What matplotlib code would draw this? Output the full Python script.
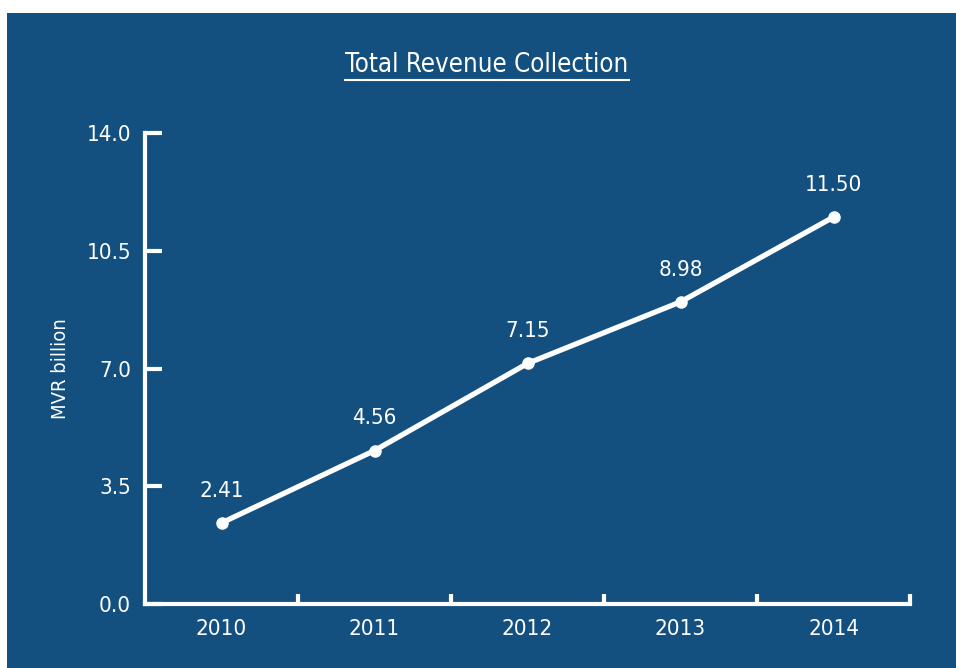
import matplotlib
matplotlib.use("Agg")
import matplotlib.pyplot as plt
from matplotlib.patches import Rectangle
from matplotlib.lines import Line2D

years = ["2010", "2011", "2012", "2013", "2014"]
revenue = [2.41, 4.56, 7.15, 8.98, 11.50]
value_labels = ["2.41", "4.56", "7.15", "8.98", "11.50"]
y_ticks = [0.0, 3.5, 7.0, 10.5, 14.0]

BG = "#13507f"
FG = "white"
plt.rcParams["font.family"] = ["Liberation Sans Narrow", "DejaVu Sans"]
plt.rcParams["font.stretch"] = "condensed"

W, H = 956, 668
fig = plt.figure(figsize=(W / 100, H / 100), dpi=100, facecolor="white")
fig.patches.append(Rectangle((7 / W, 0), 1 - 7 / W, (H - 13) / H,
                             transform=fig.transFigure, facecolor=BG,
                             edgecolor="none", zorder=-5))

ax = fig.add_axes([145 / W, 1 - 604 / H, (910 - 145) / W, (604 - 133) / H])
ax.set_facecolor("none")
ax.set_zorder(2)

x = list(range(len(years)))
ax.plot(x, revenue, color=FG, lw=3.8, marker="o", markersize=8,
        solid_capstyle="round", zorder=3, clip_on=False)
for xi, v, lab in zip(x, revenue, value_labels):
    ax.annotate(lab, (xi, v), xytext=(0, 16), textcoords="offset points",
                ha="center", va="bottom", color=FG, fontsize=16)

ax.set_xlim(-0.5, len(years) - 0.5)
ax.set_ylim(0, 14)
ax.set_xticks(x)
ax.set_xticklabels(years)
ax.set_xticks([i + 0.5 for i in x], minor=True)
ax.set_yticks(y_ticks)
ax.set_yticklabels([f"{t:.1f}" for t in y_ticks])

ax.tick_params(axis="x", which="major", length=0, pad=11, labelsize=16,
               colors=FG)
ax.tick_params(axis="x", which="minor", direction="in", length=7.5,
               width=3, color=FG)
ax.tick_params(axis="y", direction="in", length=12, width=3, pad=10,
               labelsize=16, colors=FG)

for side in ("top", "right"):
    ax.spines[side].set_visible(False)
for side in ("left", "bottom"):
    ax.spines[side].set_color(FG)
    ax.spines[side].set_linewidth(3)
    ax.spines[side].set_capstyle("projecting")

ax.set_ylabel("MVR billion", color=FG, fontsize=14.5, labelpad=12)

title = fig.text(487 / W, 1 - 65 / H, "Total Revenue Collection",
                 ha="center", va="center", color=FG, fontsize=18.5)
fig.canvas.draw()
bb = title.get_window_extent()
uy = bb.y0 - 2
fig.lines.append(Line2D([bb.x0 / W, bb.x1 / W], [uy / H, uy / H],
                        transform=fig.transFigure, color=FG, lw=1.5))

fig.savefig("out.png", dpi=100, facecolor="white")
